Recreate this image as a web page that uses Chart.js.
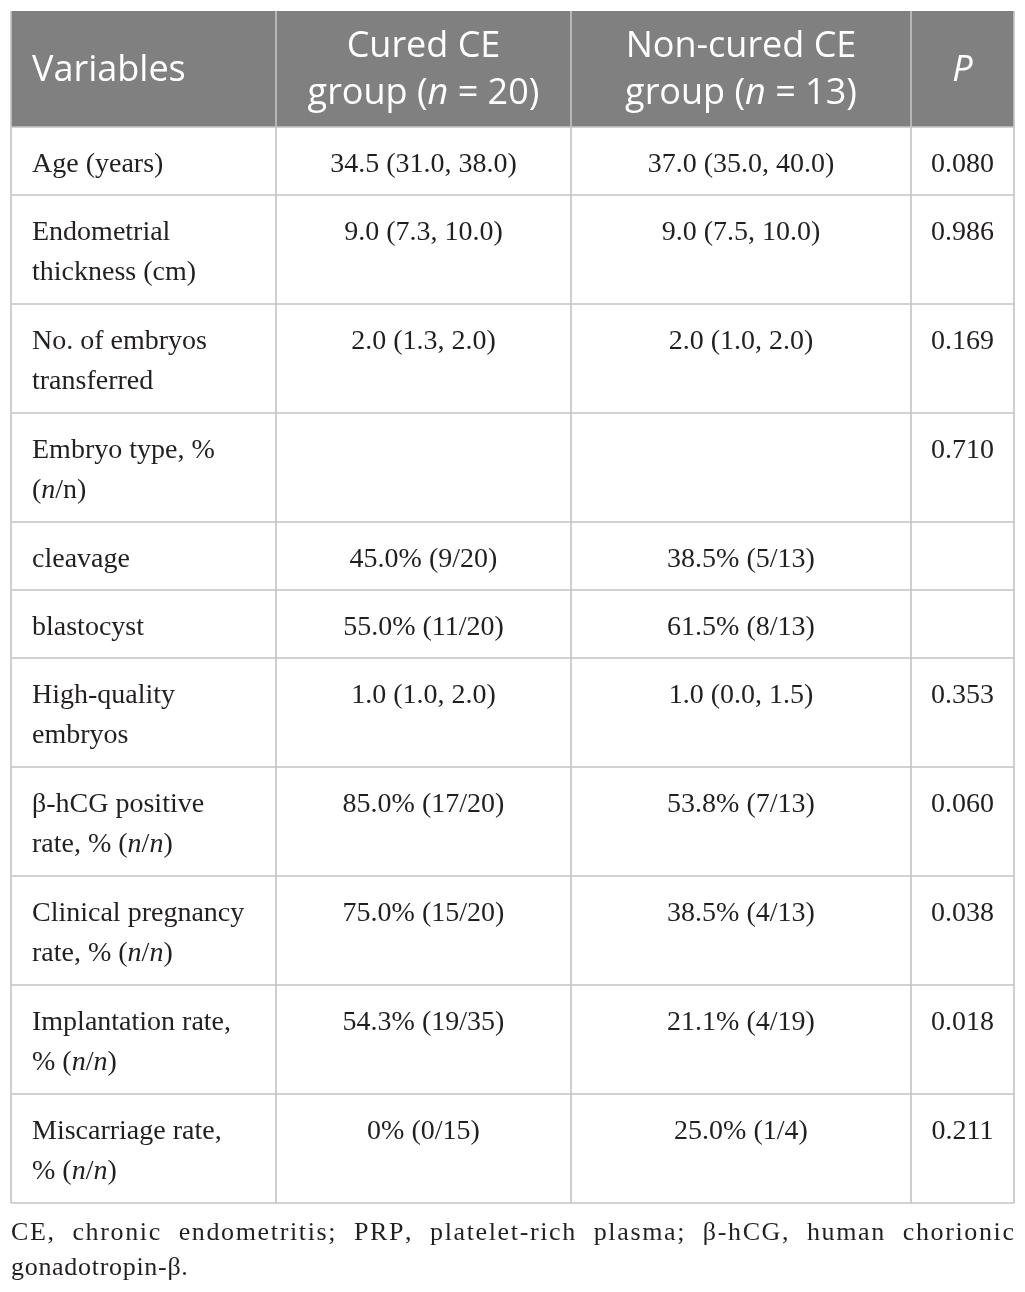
<!DOCTYPE html>
<html>
<head>
<meta charset="utf-8">
<script src="https://cdn.jsdelivr.net/npm/chart.js@4.4.1/dist/chart.umd.min.js"></script>
<style>
  html, body { margin: 0; padding: 0; background: #ffffff; }
  canvas { display: block; }
</style>
</head>
<body>
<canvas id="c" width="1025" height="1292"></canvas>
<script>
// ---------- DATA ----------
const headers = [["Variables"], ["Cured CE", "group (*n* = 20)"], ["Non-cured CE", "group (*n* = 13)"], ["*P*"]];
const variables = [
  ["Age (years)"],
  ["Endometrial", "thickness (cm)"],
  ["No. of embryos", "transferred"],
  ["Embryo type, %", "(*n*/n)"],
  ["cleavage"],
  ["blastocyst"],
  ["High-quality", "embryos"],
  ["β-hCG positive", "rate, % (*n*/*n*)"],
  ["Clinical pregnancy", "rate, % (*n*/*n*)"],
  ["Implantation rate,", "% (*n*/*n*)"],
  ["Miscarriage rate,", "% (*n*/*n*)"]
];
const curedGroup = ["34.5 (31.0, 38.0)", "9.0 (7.3, 10.0)", "2.0 (1.3, 2.0)", "", "45.0% (9/20)", "55.0% (11/20)", "1.0 (1.0, 2.0)", "85.0% (17/20)", "75.0% (15/20)", "54.3% (19/35)", "0% (0/15)"];
const nonCuredGroup = ["37.0 (35.0, 40.0)", "9.0 (7.5, 10.0)", "2.0 (1.0, 2.0)", "", "38.5% (5/13)", "61.5% (8/13)", "1.0 (0.0, 1.5)", "53.8% (7/13)", "38.5% (4/13)", "21.1% (4/19)", "25.0% (1/4)"];
const pValues = ["0.080", "0.986", "0.169", "0.710", "", "", "0.353", "0.060", "0.038", "0.018", "0.211"];
const footnoteLines = ["CE, chronic endometritis; PRP, platelet-rich plasma; β-hCG, human chorionic", "gonadotropin-β."];

// ---------- LAYOUT / STYLE ----------
const layout = {
  left: 11, right: 1014, top: 11, headerH: 116,
  colEdges: [11, 276, 571, 911, 1014],
  rowH1: 68, rowH2: 109,
  padX: 21,
  bodyBase: 44.5, bodyLine: 40,
  headBase1: 70, headBase2: [46, 93],
  footBase: [1240, 1275]
};
const style = {
  headerBg: '#808080', headerColor: '#ffffff', border: '#c4c4c4',
  bodyColor: '#231f20',
  headFont: '"Open Sans", sans-serif', headSize: 36,
  bodyFont: '"Liberation Serif", "Times New Roman", serif', bodySize: 28,
  footSize: 26, footTracking: 0.7, justifyLetterShare: 0.5
};

function parseRich(text) {
  const parts = text.split('*');
  return parts.map((t, i) => ({ t, italic: i % 2 === 1 })).filter(s => s.t.length);
}
function fontStr(seg, size, fam) { return (seg.italic ? 'italic ' : '') + size + 'px ' + fam; }
function richWidth(ctx, segs, size, fam) {
  let w = 0;
  segs.forEach(s => { ctx.font = fontStr(s, size, fam); w += ctx.measureText(s.t).width; });
  return w;
}
function drawRich(ctx, text, x, y, align, size, fam, color) {
  const segs = parseRich(text);
  const w = richWidth(ctx, segs, size, fam);
  let cx = align === 'center' ? x - w / 2 : x;
  ctx.fillStyle = color;
  ctx.textAlign = 'left';
  ctx.textBaseline = 'alphabetic';
  segs.forEach(s => { ctx.font = fontStr(s, size, fam); ctx.fillText(s.t, cx, y); cx += ctx.measureText(s.t).width; });
}
// tracked text; if x1 given, the remaining space is shared between letters and word gaps (justify)
function drawTracked(ctx, text, x0, x1, y, tracking, letterShare) {
  const chars = Array.from(text);
  let w = 0;
  chars.forEach(c => w += ctx.measureText(c).width);
  const gaps = chars.length - 1;
  w += tracking * gaps;
  const spaces = chars.filter(c => c === ' ').length;
  let letterExtra = 0, wordExtra = 0;
  if (x1 != null) {
    const extra = x1 - x0 - w;
    letterExtra = extra * letterShare / gaps;
    wordExtra = spaces ? extra * (1 - letterShare) / spaces : 0;
  }
  let cx = x0;
  chars.forEach(c => {
    ctx.fillText(c, cx, y);
    cx += ctx.measureText(c).width + tracking + letterExtra + (c === ' ' ? wordExtra : 0);
  });
}

const tablePlugin = {
  id: 'tablePlugin',
  afterDraw(chart) {
    const ctx = chart.ctx;
    const X = v => chart.scales.x.getPixelForValue(v);
    const Y = v => chart.scales.y.getPixelForValue(v);
    ctx.save();
    // header background
    const hTop = layout.top, hBot = layout.top + layout.headerH;
    ctx.fillStyle = style.headerBg;
    ctx.fillRect(X(layout.left), Y(hTop), X(layout.right) - X(layout.left), Y(hBot) - Y(hTop));

    // row boundaries
    const rowTops = [];
    let y = hBot;
    variables.forEach(v => { rowTops.push(y); y += v.length > 1 ? layout.rowH2 : layout.rowH1; });
    const tableBottom = y;

    // header text
    const ce = layout.colEdges;
    headers.forEach((h, ci) => {
      const align = ci === 0 ? 'left' : 'center';
      const x = ci === 0 ? ce[0] + layout.padX : (ce[ci] + ce[ci + 1]) / 2;
      if (h.length === 1) {
        drawRich(ctx, h[0], X(x), Y(hTop + layout.headBase1), align, style.headSize, style.headFont, style.headerColor);
      } else {
        h.forEach((line, li) => drawRich(ctx, line, X(x), Y(hTop + layout.headBase2[li]), align, style.headSize, style.headFont, style.headerColor));
      }
    });

    // body text
    const columns = [variables, curedGroup, nonCuredGroup, pValues];
    variables.forEach((_, ri) => {
      columns.forEach((col, ci) => {
        const cell = col[ri];
        const lines = Array.isArray(cell) ? cell : (cell ? [cell] : []);
        const align = ci === 0 ? 'left' : 'center';
        const x = ci === 0 ? ce[0] + layout.padX : (ce[ci] + ce[ci + 1]) / 2;
        lines.forEach((line, li) => {
          drawRich(ctx, line, X(x), Y(rowTops[ri] + layout.bodyBase + li * layout.bodyLine), align, style.bodySize, style.bodyFont, style.bodyColor);
        });
      });
    });

    // borders
    ctx.strokeStyle = style.border;
    ctx.lineWidth = 1.6;
    ctx.beginPath();
    [hBot].concat(rowTops.slice(1)).concat([tableBottom]).forEach(yy => {
      ctx.moveTo(X(layout.left), Y(yy)); ctx.lineTo(X(layout.right), Y(yy));
    });
    ce.forEach(xx => { ctx.moveTo(X(xx), Y(hTop)); ctx.lineTo(X(xx), Y(tableBottom)); });
    ctx.stroke();

    // footnote
    ctx.font = style.footSize + 'px ' + style.bodyFont;
    ctx.fillStyle = style.bodyColor;
    ctx.textAlign = 'left';
    ctx.textBaseline = 'alphabetic';
    drawTracked(ctx, footnoteLines[0], X(layout.left), X(layout.right), Y(layout.footBase[0]), style.footTracking, style.justifyLetterShare);
    drawTracked(ctx, footnoteLines[1], X(layout.left), null, Y(layout.footBase[1]), style.footTracking, 0);
    ctx.restore();
  }
};

new Chart(document.getElementById('c').getContext('2d'), {
  type: 'scatter',
  data: { datasets: [] },
  options: {
    responsive: false,
    animation: false,
    layout: { padding: 0 },
    plugins: { legend: { display: false }, tooltip: { enabled: false } },
    scales: {
      x: { type: 'linear', min: 0, max: 1025, display: false },
      y: { type: 'linear', min: 0, max: 1292, reverse: true, display: false }
    }
  },
  plugins: [tablePlugin]
});
</script>
</body>
</html>
